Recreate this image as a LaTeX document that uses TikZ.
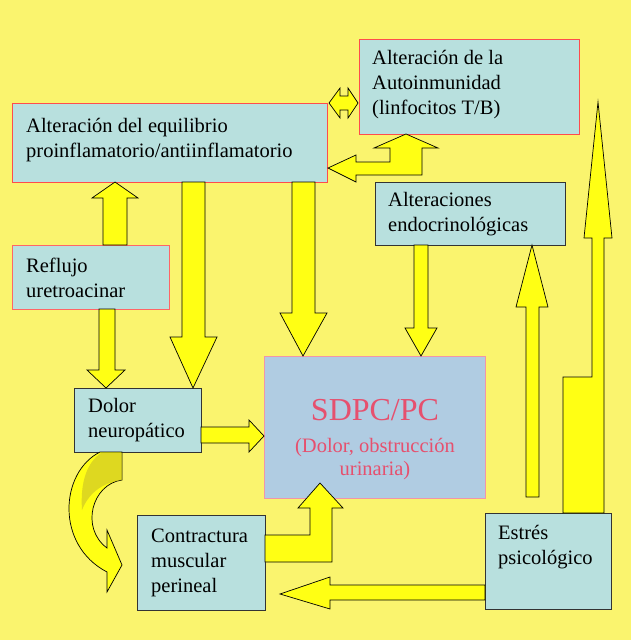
\documentclass[tikz,border=0pt]{standalone}
\usepackage{fontspec}
\setmainfont{Liberation Serif}
\begin{document}
\begin{tikzpicture}[x=1pt,y=-1pt,
  bx/.style={draw=#1,line width=0.8pt,fill=boxc},
  txt/.style={anchor=west,align=left,font=\fontsize{20.5}{25}\selectfont,inner sep=0pt},
  arr/.style={draw=black,line width=0.7pt,fill=arrc,line join=miter}]
\definecolor{bg}{RGB}{250,244,110}
\definecolor{boxc}{RGB}{184,224,222}
\definecolor{sdc}{RGB}{176,204,226}
\definecolor{arrc}{RGB}{255,255,20}
\definecolor{redc}{RGB}{230,80,110}
\definecolor{olive}{RGB}{200,190,40}
\fill[bg] (0,0) rectangle (631,640);
\useasboundingbox (0,0) rectangle (631,640);
% boxes
\draw[bx=red!70] (359,39) rectangle (579,134);
\draw[bx=red!70] (12,103) rectangle (327,182);
\draw[bx=black!80] (375,182) rectangle (565,245);
\draw[bx=red!60] (12,245) rectangle (169,309);
\draw[draw=redc!60,line width=0.8pt,fill=sdc] (264,356) rectangle (485,498);
\draw[bx=black!80] (74,388) rectangle (201,452);
\draw[bx=black!80] (137,515) rectangle (265,610);
\draw[bx=black!80] (485,513) rectangle (611,609);
% texts
\node[txt] (tA) at (372,85) {Alteración de la\\Autoinmunidad\\(linfocitos T/B)};
\node[txt] (tE) at (26,140) {Alteración del equilibrio\\proinflamatorio/antiinflamatorio};
\node[txt] (tN) at (388,214) {Alteraciones\\endocrinológicas};
\node[txt] (tR) at (26,278) {Reflujo\\uretroacinar};
\node[text=redc,inner sep=0pt,font=\fontsize{32}{34}\selectfont] (tS) at (375,410) {SDPC/PC};
\node[align=center,text=redc,inner sep=0pt,font=\fontsize{20.5}{23}\selectfont] (tS2) at (375,459) {(Dolor, obstrucción\\urinaria)};
\node[txt] (tD) at (88,420) {Dolor\\neuropático};
\node[txt] (tC) at (151,563) {Contractura\\muscular\\perineal};
\node[txt] (tP) at (498,547) {Estrés\\psicológico};
% arrows
\draw[arr] (329,103)--(340,88)--(340,96)--(348,96)--(348,88)--(358,103)--(348,118)--(348,110)--(340,110)--(340,118)--cycle;
\draw[arr] (406,134)--(438,148)--(422,148)--(422,175)--(356,175)--(356,182)--(328,168)--(356,155)--(356,162)--(390,162)--(390,148)--(374,148)--cycle;
\draw[arr] (103,245)--(103,198)--(92,198)--(115,182)--(138,198)--(127,198)--(127,245)--cycle;
\draw[arr] (99,309)--(99,370)--(87,370)--(106,388)--(125,370)--(115,370)--(115,309)--cycle;
\draw[arr] (182,182)--(182,337)--(170,337)--(193,388)--(217,337)--(205,337)--(205,182)--cycle;
\draw[arr] (292,182)--(292,313)--(280,313)--(303,356)--(327,313)--(315,313)--(315,182)--cycle;
\draw[arr] (414,245)--(414,328)--(405,328)--(421,356)--(437,328)--(428,328)--(428,245)--cycle;
\draw[arr] (526,497)--(526,307)--(516,307)--(532,245)--(548,307)--(539,307)--(539,497)--cycle;
\draw[arr] (563,513)--(563,377)--(592,377)--(592,238)--(584,238)--(598,102)--(612,238)--(604,238)--(604,513)--cycle;
\draw[arr] (201,427)--(249,427)--(249,420)--(264,436)--(249,452)--(249,443)--(201,443)--cycle;
\draw[arr] (265,535)--(310,535)--(310,508)--(298,508)--(320,483)--(343,508)--(332,508)--(332,562)--(265,562)--cycle;
\draw[arr] (485,585)--(330,585)--(330,577)--(280,594)--(330,609)--(330,600)--(485,600)--cycle;
\draw[arr] (122,452)--(122,480) .. controls (92,484) and (80,528) .. (107,548)--(107,530)--(122,565)--(107,592)--(107,572) .. controls (55,545) and (60,472) .. (100,452)--cycle;
\fill[olive,opacity=0.6] (122,453)--(122,480) .. controls (100,483) and (88,495) .. (82,510) .. controls (80,480) and (88,462) .. (101,453)--cycle;
\end{tikzpicture}
\end{document}
